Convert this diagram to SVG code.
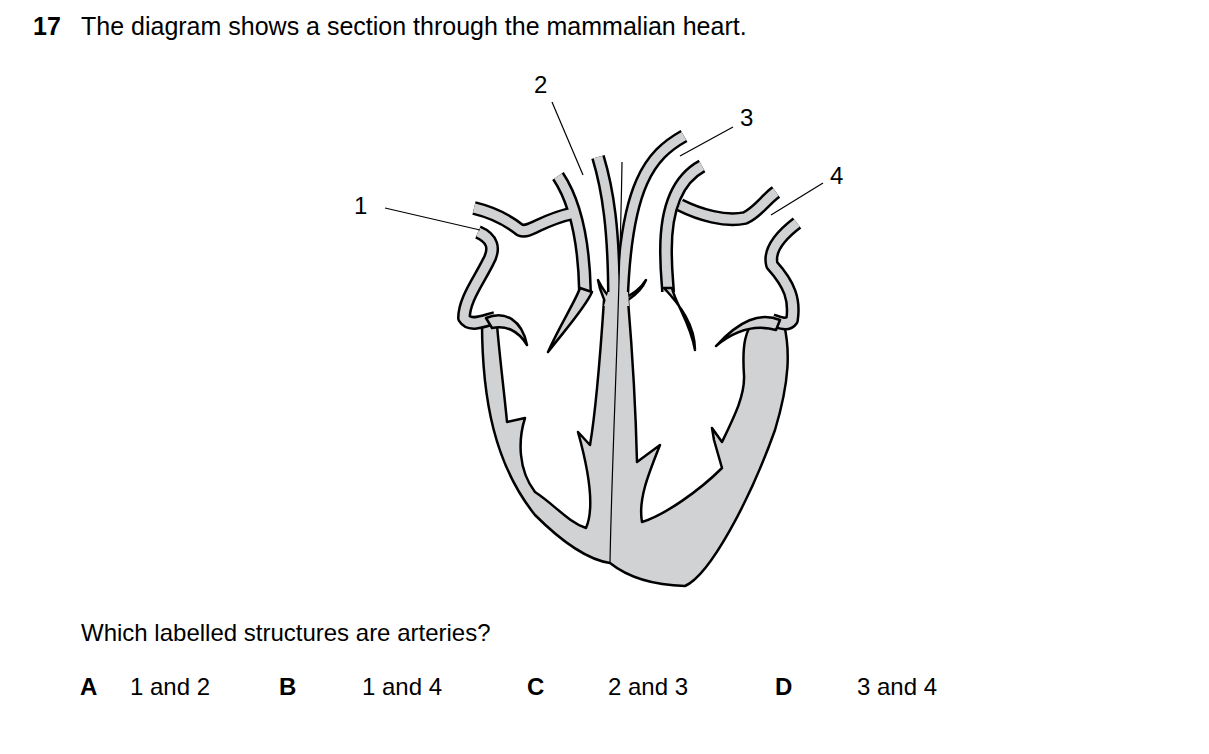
<svg xmlns="http://www.w3.org/2000/svg" width="1209" height="754" viewBox="0 0 1209 754">
<style>
text{font-family:"Liberation Sans",Arial,sans-serif;font-size:24px;fill:#000}
.t{font-size:25px}
.b{font-weight:bold}
.to{fill:none;stroke:#000;stroke-width:14;stroke-linecap:butt;stroke-linejoin:round}
.ti{fill:none;stroke:#d1d2d4;stroke-width:9;stroke-linecap:butt;stroke-linejoin:round}
.ln{fill:none;stroke:#000;stroke-width:1.2}
.ed{fill:none;stroke:#000;stroke-width:2.5;stroke-linejoin:round}
.lf{fill:#d1d2d4;stroke:#000;stroke-width:2.5;stroke-linejoin:round}
</style>
<defs>
<path id="vA" d="M558,176 C574,200 584,240 585,292"/>
<path id="vAb" d="M474,208 C495,213 510,222 520,230 C530,234 540,220 574,213"/>
<path id="vB1" d="M598,157 C608,190 614,230 614,300"/>
<path id="vB2" d="M684,136 C650,155 626,185 622,300"/>
<path id="vC" d="M702,166 C680,178 666,205 666,250 C666,275 668,285 668,292"/>
<path id="vCb" d="M680,205 C700,215 725,222 745,218 C758,212 765,200 776,192"/>
<path id="wL" d="M478,232 C492,238 496,248 488,262 C478,282 464,300 464,318 C470,328 486,320 495,318"/>
<path id="wR" d="M797,223 C780,236 768,250 772,265 C790,285 795,300 792,320 C788,326 780,323 772,320"/>
</defs>
<text x="33" y="35" class="b t">17</text>
<text x="81" y="35" class="t">The diagram shows a section through the mammalian heart.</text>

<g id="heart">
<path d="M482,322 C482,400 495,465 535,515 C565,545 590,560 610,563 C625,575 650,585 685,586 C710,575 750,500 775,430 C790,380 790,350 784,324 L756,318 L628,300 L604,300 L497,325 Z" fill="#d1d2d4"/>
<path d="M497,325 C500,360 505,400 507,422 L525,418 C518,440 518,470 535,492 C555,505 568,522 586,528 C594,510 590,475 578,432 L590,445 C596,410 600,360 604,300 L604,290 L497,312 Z" fill="#fff"/>
<path d="M497,325 C500,360 505,400 507,422 L525,418 C518,440 518,470 535,492 C555,505 568,522 586,528 C594,510 590,475 578,432 L590,445 C596,410 600,360 604,300" class="ed"/>
<path d="M628,300 C633,360 636,420 637,462 L660,445 C648,475 638,500 642,522 C665,515 700,490 722,468 L714,440 L712,428 L722,442 C735,415 745,395 744,375 C742,345 745,330 756,318 L756,306 L628,288 Z" fill="#fff"/>
<path d="M628,300 C633,360 636,420 637,462 L660,445 C648,475 638,500 642,522 C665,515 700,490 722,468 L714,440 L712,428 L722,442 C735,415 745,395 744,375 C742,345 745,330 756,318" class="ed"/>
<path d="M482,322 C482,400 495,465 535,515 C565,545 590,560 610,563 C625,575 650,585 685,586 C710,575 750,500 775,430 C790,380 790,350 784,324" class="ed"/>
<use href="#vA" class="to"/><use href="#vAb" class="to"/><use href="#vB1" class="to"/><use href="#vB2" class="to"/><use href="#vC" class="to"/><use href="#vCb" class="to"/><use href="#wL" class="to"/><use href="#wR" class="to"/>
<use href="#vA" class="ti"/><use href="#vAb" class="ti"/><use href="#vB1" class="ti"/><use href="#vB2" class="ti"/><use href="#vC" class="ti"/><use href="#vCb" class="ti"/><use href="#wL" class="ti"/><use href="#wR" class="ti"/>
<path d="M580,288 C576,300 560,325 548,352 C565,330 585,308 592,292 Z" class="lf"/>
<path d="M664,288 C680,305 695,325 695,350 C690,322 676,305 672,288 Z" class="lf"/>
<path d="M486,318 C505,310 522,320 527,345 C518,330 505,325 492,328 Z" class="lf"/>
<path d="M780,320 C760,312 740,320 716,346 C738,328 758,325 776,330 Z" class="lf"/>
<path d="M598,280 C600,292 604,298 605,302 L612,300 C606,294 602,288 598,280 Z" class="lf"/>
<path d="M646,280 C642,290 634,296 628,300 L622,300 C632,294 640,290 646,280 Z" class="lf"/>
<path d="M608,292 L628,292 L629,306 L604,306 Z" fill="#d1d2d4"/>
<path d="M622,162 C620,300 612,450 610,563" class="ln"/>
</g>

<g id="labels">
<text x="354" y="214">1</text>
<path d="M385,208 L480,230" class="ln"/>
<text x="534" y="93">2</text>
<path d="M552,102 L583,175" class="ln"/>
<text x="740" y="126">3</text>
<path d="M733,127 L680,156" class="ln"/>
<text x="830" y="184">4</text>
<path d="M823,183 L771,215" class="ln"/>
</g>

<text x="81" y="641">Which labelled structures are arteries?</text>
<text x="80" y="695" class="b">A</text><text x="130" y="695">1 and 2</text>
<text x="279" y="695" class="b">B</text><text x="362" y="695">1 and 4</text>
<text x="527" y="695" class="b">C</text><text x="608" y="695">2 and 3</text>
<text x="775" y="695" class="b">D</text><text x="857" y="695">3 and 4</text>
</svg>
